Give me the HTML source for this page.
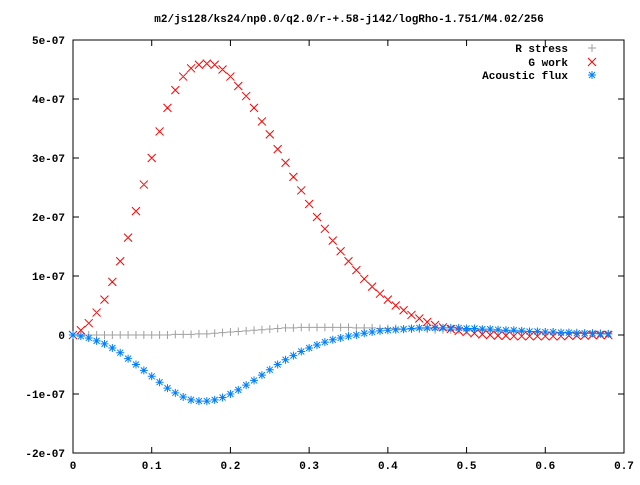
<!DOCTYPE html>
<html><head><meta charset="utf-8">
<style>
html,body{margin:0;padding:0;background:#fff;}
svg text{font-family:"Liberation Mono",monospace;font-weight:bold;font-size:11px;fill:#000;}
</style></head>
<body>
<svg id="chart" width="640" height="480" xmlns="http://www.w3.org/2000/svg">
<rect width="640" height="480" fill="#fff"/>
<text x="349" y="22" text-anchor="middle">m2/js128/ks24/np0.0/q2.0/r-+.58-j142/logRho-1.751/M4.02/256</text>
<g id="axes"></g>
<g id="series"></g>
<g id="legend">
<text x="568" y="52" text-anchor="end">R stress</text>
<text x="568" y="66" text-anchor="end">G work</text>
<text x="568" y="79" text-anchor="end">Acoustic flux</text>
</g>
</svg>
<script>
const xTicks=[0,0.1,0.2,0.3,0.4,0.5,0.6,0.7];
const xTickLabels=["0","0.1","0.2","0.3","0.4","0.5","0.6","0.7"];
const yTicks=[-2,-1,0,1,2,3,4,5];
const yTickLabels=["-2e-07","-1e-07","0","1e-07","2e-07","3e-07","4e-07","5e-07"];
// x positions 0..0.68 step 0.01 ; values in units of 1e-7
const xs=[0,0.01,0.02,0.03,0.04,0.05,0.06,0.07,0.08,0.09,0.10,0.11,0.12,0.13,0.14,0.15,0.16,0.17,0.18,0.19,0.20,0.21,0.22,0.23,0.24,0.25,0.26,0.27,0.28,0.29,0.30,0.31,0.32,0.33,0.34,0.35,0.36,0.37,0.38,0.39,0.40,0.41,0.42,0.43,0.44,0.45,0.46,0.47,0.48,0.49,0.50,0.51,0.52,0.53,0.54,0.55,0.56,0.57,0.58,0.59,0.60,0.61,0.62,0.63,0.64,0.65,0.66,0.67,0.68];
const gWork=[0,0.08,0.2,0.38,0.6,0.9,1.25,1.65,2.1,2.55,3.0,3.45,3.85,4.15,4.38,4.52,4.58,4.6,4.58,4.5,4.38,4.22,4.05,3.85,3.62,3.4,3.15,2.92,2.68,2.45,2.22,2.0,1.8,1.6,1.42,1.25,1.1,0.95,0.82,0.7,0.6,0.5,0.42,0.34,0.28,0.22,0.17,0.13,0.1,0.07,0.05,0.03,0.01,0,-0.01,-0.01,-0.02,-0.02,-0.02,-0.02,-0.02,-0.02,-0.02,-0.01,-0.01,-0.01,0,0,0];
const acoustic=[0,-0.02,-0.05,-0.1,-0.15,-0.22,-0.3,-0.4,-0.5,-0.6,-0.7,-0.8,-0.9,-0.98,-1.05,-1.1,-1.12,-1.12,-1.1,-1.06,-1.0,-0.93,-0.85,-0.77,-0.68,-0.59,-0.5,-0.42,-0.35,-0.28,-0.22,-0.17,-0.12,-0.08,-0.05,-0.02,0,0.03,0.05,0.07,0.08,0.09,0.1,0.11,0.12,0.12,0.12,0.12,0.12,0.12,0.11,0.11,0.1,0.1,0.09,0.08,0.08,0.07,0.06,0.06,0.05,0.05,0.04,0.04,0.03,0.03,0.03,0.02,0.02];
const rStress=[0,0,0,0,0,0,0,0,0,0,0,0,0,0.01,0.01,0.01,0.02,0.02,0.03,0.04,0.05,0.06,0.07,0.08,0.09,0.1,0.11,0.12,0.12,0.13,0.13,0.13,0.13,0.13,0.13,0.13,0.12,0.12,0.12,0.11,0.11,0.11,0.1,0.1,0.1,0.1,0.09,0.09,0.09,0.09,0.08,0.08,0.08,0.07,0.07,0.07,0.06,0.06,0.06,0.05,0.05,0.05,0.04,0.04,0.04,0.03,0.03,0.03,0.02];
const L=73,R=624,T=40,B=453;
const X=v=>L+(v-0)/0.7*(R-L);
const Y=v=>B-(v+2)/7*(B-T);
const NS="http://www.w3.org/2000/svg";
function mk(tag,attrs,parent){const e=document.createElementNS(NS,tag);for(const k in attrs)e.setAttribute(k,attrs[k]);parent.appendChild(e);return e;}
const axes=document.getElementById('axes');
const frame=mk('rect',{x:L,y:T,width:R-L,height:B-T,fill:'none',stroke:'#000','stroke-width':1},axes);


xTicks.forEach((t,i)=>{
 const x=X(t);
 const a=mk('path',{d:`M${x} ${B}v-6M${x} ${T}v6`,stroke:'#000'},axes);
 
 
 const tx=mk('text',{x:x,y:B+16,'text-anchor':'middle'},axes);tx.textContent=xTickLabels[i];
 
 
});
yTicks.forEach((t,i)=>{
 const y=Y(t);
 const a=mk('path',{d:`M${L} ${y}h6M${R} ${y}h-6`,stroke:'#000'},axes);
 
 
 const tx=mk('text',{x:L-8,y:y+4,'text-anchor':'end'},axes);tx.textContent=yTickLabels[i];
 
 
});
const ser=document.getElementById('series');
function plus(x,y,s){s=s||4;return `M${x-s} ${y}h${2*s}M${x} ${y-s}v${2*s}`;}
function cross(x,y,s){s=s||4;return `M${x-s} ${y-s}l${2*s} ${2*s}M${x-s} ${y+s}l${2*s} ${-2*s}`;}
function star(x,y){return plus(x,y,4)+cross(x,y,3);}
function draw(vals,fn,color,name){
 const g=mk('g',{},ser);
 
 
 let d='';vals.forEach((v,i)=>{d+=fn(X(xs[i]),Y(v));});
 mk('path',{d:d,stroke:color,'stroke-width':1,fill:'none'},g);
}
draw(rStress,plus,'#a0a0a0','series-r-stress');
draw(gWork,cross,'#ff0000','series-g-work');
draw(acoustic,star,'#0080ff','series-acoustic-flux');
const lg=document.getElementById('legend');
[[plus,'#a0a0a0',48,'legend-marker-r-stress'],[cross,'#ff0000',62,'legend-marker-g-work'],[star,'#0080ff',75,'legend-marker-acoustic-flux']].forEach(m=>{
 const p=mk('path',{d:m[0](592,m[2]),stroke:m[1],fill:'none'},lg);
 
 
});
</script>
</body></html>
